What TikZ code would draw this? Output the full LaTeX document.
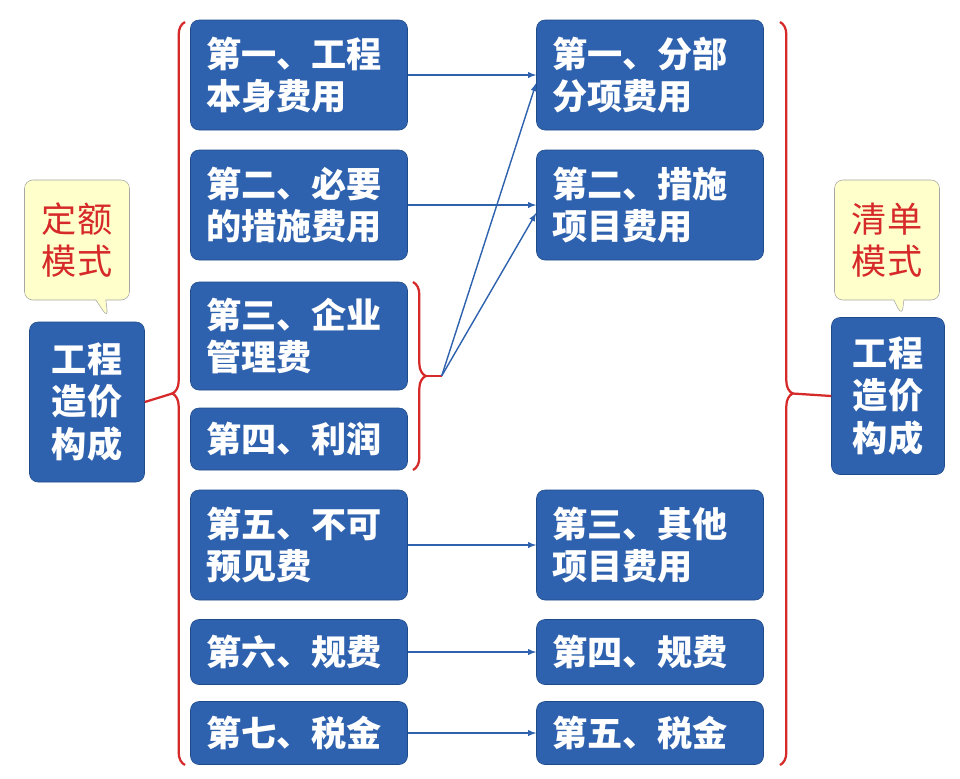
\documentclass[tikz,border=0pt]{standalone}
\usepackage{fontspec}
\newfontfamily\cjk{Noto Sans CJK SC}
\usetikzlibrary{calc,shapes.callouts,decorations.pathreplacing}
\definecolor{boxblue}{HTML}{2F62AE}
\definecolor{boxedge}{HTML}{1F4A8A}
\definecolor{tipyellow}{HTML}{FFFFCC}
\definecolor{bracered}{HTML}{D62A2A}
\tikzset{
  item/.style={draw=boxedge,fill=boxblue,rounded corners=6pt,text=white,
    font=\cjk\bfseries\fontsize{25}{30}\selectfont,align=left,inner sep=0pt,
    minimum width=217*0.025cm},
  tip/.style={rectangle callout,draw=gray!70,fill=tipyellow,rounded corners=6pt,
    text=bracered,font=\cjk\fontsize{25}{30}\selectfont,align=center,
    minimum width=105*0.025cm,minimum height=120*0.025cm},
  brace/.style={draw=bracered,line width=1.6pt,decorate,
    decoration={brace,amplitude=9pt}},
  link/.style={draw=boxblue,line width=1pt,-latex}
}
\begin{document}
\begin{tikzpicture}[x=0.025cm,y=-0.025cm]
  \useasboundingbox (0,0) rectangle (960,778);
  \fill[white] (0,0) rectangle (960,778);
  % left column
  \foreach \name/\yc/\hgt/\txt in {%
    L1/75/110/{第一、工程\\本身费用},
    L2/205/110/{第二、必要\\的措施费用},
    L3/336/108/{第三、企业\\管理费},
    L4/439/62/{第四、利润},
    L5/545/110/{第五、不可\\预见费},
    L6/652/65/{第六、规费},
    L7/733/63/{第七、税金}}{%
      \node[item,minimum height=\hgt*0.025cm,text width=186*0.025cm] (\name) at (299,\yc) {\txt};
    }
  % right column
  \foreach \name/\yc/\hgt/\txt in {%
    R1/75/110/{第一、分部\\分项费用},
    R2/205/110/{第二、措施\\项目费用},
    R3/545/110/{第三、其他\\项目费用},
    R4/652/65/{第四、规费},
    R5/733/63/{第五、税金}}{%
      \node[item,minimum width=227*0.025cm,minimum height=\hgt*0.025cm,text width=196*0.025cm] (\name) at (650,\yc) {\txt};
    }
  % side boxes
  \node[item,minimum width=115*0.025cm,minimum height=160*0.025cm,align=center] (costL) at (87,402) {工程\\造价\\构成};
  \node[item,minimum width=113*0.025cm,minimum height=157*0.025cm,align=center] (costR) at (888,396) {工程\\造价\\构成};
  \node[tip,callout absolute pointer={(108,318)}] (modeL) at (77,240) {定额\\模式};
  \node[tip,callout absolute pointer={(902,316)}] (modeR) at (887,240) {清单\\模式};
  % braces
  \draw[brace] (185,765) -- (185,22) coordinate[midway,xshift=-9pt] (tipL);
  \draw[draw=bracered,line width=1.6pt] (tipL) -- (costL.east);
  \draw[brace] (780,22) -- (780,765) coordinate[midway,xshift=9pt] (tipR);
  \draw[draw=bracered,line width=1.6pt] (tipR) -- (costR.west);
  \draw[brace] (413,282) -- (413,470) coordinate[pos=0.5,xshift=9pt] (tipM);
  \coordinate (fork) at ($(tipM)+(16,0)$);
  \draw[draw=bracered,line width=1.6pt] (tipM) -- (fork);
  % links
  \draw[link] (L1.east) -- (R1.west);
  \draw[link] (L2.east) -- (R2.west);
  \draw[link] (fork) -- ($(R1.west)+(0,8)$);
  \draw[link] (fork) -- ($(R2.west)+(0,8)$);
  \draw[link] (L5.east) -- (R3.west);
  \draw[link] (L6.east) -- (R4.west);
  \draw[link] (L7.east) -- (R5.west);
\end{tikzpicture}
\end{document}
